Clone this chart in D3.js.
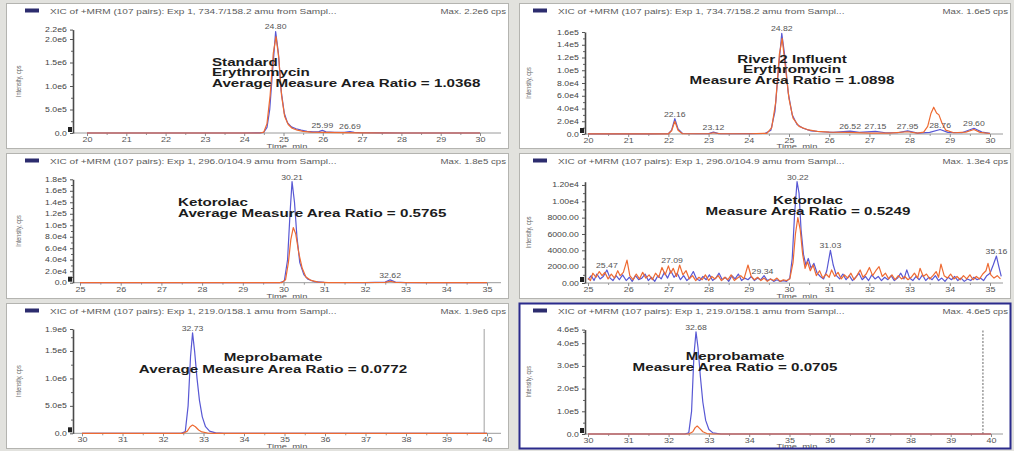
<!DOCTYPE html>
<html>
<head>
<meta charset="utf-8">
<script src="https://cdn.jsdelivr.net/npm/d3@7"></script>
<style>
  html, body { margin: 0; padding: 0; background: #e2e2de; }
  svg { display: block; }
</style>
</head>
<body>
<svg id="chart" width="1014" height="451"></svg>
<script>
// ---------------------------------------------------------------
// Extracted ion chromatograms: [retention time (min), intensity (cps)]
// ---------------------------------------------------------------

// Erythromycin, standard
const erythroStdBlue = [
  [20.0, 0], [21.0, 0], [22.0, 0], [23.0, 0], [24.0, 0], [24.4, 2000], [24.5, 15000],
  [24.58, 120000], [24.65, 500000], [24.72, 1300000], [24.8, 2160000], [24.87, 1700000],
  [24.94, 900000], [25.02, 420000], [25.1, 220000], [25.2, 130000], [25.32, 90000],
  [25.45, 60000], [25.6, 35000], [25.75, 22000], [25.9, 30000], [25.99, 55000],
  [26.08, 25000], [26.3, 12000], [26.55, 15000], [26.69, 32000], [26.8, 12000],
  [27.0, 5000], [27.5, 2000], [28.0, 0], [29.0, 0], [30.0, 0]
];
const erythroStdOrange = [
  [20.0, 0], [22.0, 0], [24.4, 0], [24.5, 20000], [24.58, 200000], [24.66, 800000],
  [24.74, 1700000], [24.81, 2050000], [24.88, 1600000], [24.95, 800000], [25.03, 350000],
  [25.12, 180000], [25.22, 100000], [25.35, 60000], [25.5, 35000], [25.7, 20000],
  [26.0, 15000], [26.5, 8000], [27.0, 3000], [28.0, 0], [30.0, 0]
];
const erythroStdPeaks = [[24.80, 2160000], [25.99, 55000], [26.69, 32000]];

// Erythromycin, River 2 influent
const erythroRivBlue = [
  [20.0, 300], [20.5, 200], [21.0, 300], [21.5, 200], [22.0, 400], [22.08, 6000],
  [22.16, 24000], [22.24, 8000], [22.35, 800], [22.7, 400], [23.0, 600], [23.12, 3000],
  [23.25, 600], [23.6, 400], [24.0, 500], [24.4, 800], [24.55, 6000], [24.65, 35000],
  [24.75, 110000], [24.82, 158000], [24.9, 120000], [24.98, 65000], [25.08, 30000],
  [25.2, 15000], [25.35, 9000], [25.55, 5000], [25.8, 3500], [26.1, 2500],
  [26.52, 4500], [26.75, 2500], [27.15, 4000], [27.4, 2000], [27.7, 2000], [27.95, 5000],
  [28.2, 1500], [28.5, 2500], [28.76, 7000], [28.95, 2500], [29.3, 2000], [29.6, 9000],
  [29.8, 3000], [30.0, 1000]
];
const erythroRivOrange = [
  [20.0, 200], [21.0, 200], [22.0, 300], [22.08, 5000], [22.16, 20000], [22.24, 6000],
  [22.35, 500], [23.0, 400], [23.12, 2000], [23.3, 400], [24.0, 400], [24.45, 1000],
  [24.57, 10000], [24.67, 50000], [24.76, 125000], [24.83, 150000], [24.9, 110000],
  [25.0, 55000], [25.1, 25000], [25.25, 12000], [25.45, 7000], [25.7, 4000], [26.0, 3000],
  [26.5, 2500], [27.0, 1500], [27.5, 1500], [27.95, 3500], [28.2, 1500], [28.35, 3000], [28.45, 12000],
  [28.53, 32000], [28.6, 42000], [28.67, 33000], [28.73, 30000], [28.8, 18000],
  [28.9, 6000], [29.1, 2000], [29.4, 3000], [29.6, 7000], [29.75, 2500], [30.0, 800]
];
const erythroRivPeaks = [
  [22.16, 24000], [23.12, 3000], [24.82, 158000], [26.52, 4500], [27.15, 4000],
  [27.95, 5000], [28.76, 7000], [29.60, 9000]
];

// Ketorolac, standard
const ketoStdBlue = [
  [25.0, 0], [26.0, 0], [27.0, 0], [28.0, 0], [29.0, 0], [29.9, 0], [30.02, 3000],
  [30.1, 40000], [30.16, 120000], [30.21, 176000], [30.27, 140000], [30.33, 80000],
  [30.4, 35000], [30.5, 14000], [30.6, 6000], [30.75, 2000], [31.0, 500], [32.0, 300],
  [32.5, 1000], [32.62, 5000], [32.75, 1000], [33.0, 200], [34.0, 0], [35.0, 0]
];
const ketoStdOrange = [
  [25.0, 0], [28.0, 0], [29.95, 0], [30.05, 5000], [30.12, 35000], [30.18, 75000],
  [30.24, 96000], [30.3, 85000], [30.38, 50000], [30.46, 25000], [30.55, 10000],
  [30.68, 4000], [30.85, 1000], [31.1, 0], [32.5, 500], [32.62, 2500], [32.75, 500],
  [33.5, 0], [35.0, 0]
];
const ketoStdPeaks = [[30.21, 176000], [32.62, 5000]];

// Ketorolac, River 2 influent
const ketoRivBlue = [
  [25.0, 400], [25.08, 900], [25.15, 300], [25.22, 1100], [25.3, 500], [25.38, 800],
  [25.47, 1600], [25.55, 600], [25.62, 300], [25.7, 900], [25.78, 400], [25.86, 1000],
  [25.95, 300], [26.03, 700], [26.1, 200], [26.18, 900], [26.26, 400], [26.34, 600],
  [26.42, 1100], [26.5, 300], [26.58, 700], [26.66, 200], [26.74, 900], [26.82, 500],
  [26.9, 1300], [26.98, 600], [27.06, 1500], [27.14, 700], [27.22, 1200], [27.3, 400],
  [27.38, 900], [27.46, 300], [27.54, 700], [27.62, 1400], [27.7, 500], [27.78, 300],
  [27.86, 800], [27.94, 400], [28.02, 1000], [28.1, 300], [28.18, 600], [28.26, 1200],
  [28.34, 400], [28.42, 700], [28.5, 200], [28.58, 900], [28.66, 500], [28.74, 1100],
  [28.82, 300], [28.9, 600], [28.98, 400], [29.06, 800], [29.14, 300], [29.22, 600],
  [29.3, 400], [29.38, 900], [29.46, 300], [29.54, 500], [29.62, 200], [29.7, 400],
  [29.78, 200], [29.86, 300], [29.94, 200], [30.02, 600], [30.08, 3000], [30.14, 8500],
  [30.2, 12400], [30.25, 11000], [30.3, 6500], [30.36, 3500], [30.42, 2200], [30.48, 3000],
  [30.55, 1800], [30.62, 2400], [30.7, 1200], [30.78, 800], [30.86, 500], [30.94, 1500],
  [31.03, 4000], [31.1, 2200], [31.18, 900], [31.26, 500], [31.34, 1100], [31.42, 400],
  [31.5, 900], [31.58, 300], [31.66, 700], [31.74, 1200], [31.82, 400], [31.9, 800],
  [31.98, 300], [32.06, 1000], [32.14, 500], [32.22, 800], [32.3, 300], [32.38, 700],
  [32.46, 400], [32.54, 900], [32.62, 300], [32.7, 600], [32.78, 1200], [32.86, 500],
  [32.93, 1600], [33.0, 600], [33.08, 300], [33.16, 800], [33.24, 400], [33.32, 1000],
  [33.4, 300], [33.48, 700], [33.56, 400], [33.64, 900], [33.72, 300], [33.8, 600],
  [33.88, 200], [33.96, 700], [34.04, 400], [34.12, 800], [34.2, 300], [34.28, 600],
  [34.36, 200], [34.44, 500], [34.52, 300], [34.6, 700], [34.68, 400], [34.76, 600],
  [34.84, 300], [34.92, 900], [35.0, 1200], [35.08, 2200], [35.16, 3300], [35.22, 2000],
  [35.28, 800]
];
const ketoRivOrange = [
  [25.0, 600], [25.06, 300], [25.12, 1200], [25.2, 700], [25.28, 1400], [25.35, 900],
  [25.42, 1300], [25.5, 500], [25.58, 1100], [25.66, 600], [25.74, 1500], [25.8, 900],
  [25.88, 1300], [25.97, 2800], [26.04, 900], [26.12, 400], [26.2, 1100], [26.28, 500],
  [26.36, 1300], [26.44, 600], [26.52, 1000], [26.6, 400], [26.68, 1200], [26.76, 700],
  [26.84, 1900], [26.92, 1000], [27.0, 2100], [27.06, 1200], [27.12, 1800], [27.2, 800],
  [27.28, 2200], [27.36, 1000], [27.44, 1500], [27.52, 500], [27.6, 900], [27.68, 300],
  [27.76, 700], [27.84, 400], [27.92, 1000], [28.0, 300], [28.08, 800], [28.16, 500],
  [28.24, 900], [28.32, 300], [28.4, 700], [28.48, 400], [28.56, 1000], [28.64, 300],
  [28.72, 600], [28.8, 900], [28.88, 500], [28.98, 2200], [29.06, 800], [29.14, 400],
  [29.22, 700], [29.3, 300], [29.38, 600], [29.46, 200], [29.54, 500], [29.62, 300],
  [29.7, 600], [29.78, 200], [29.86, 400], [29.94, 300], [30.02, 500], [30.1, 2500],
  [30.16, 6000], [30.22, 8000], [30.28, 6500], [30.34, 3500], [30.4, 1800], [30.46, 2600],
  [30.53, 1500], [30.6, 2200], [30.68, 900], [30.76, 1500], [30.84, 600], [30.92, 1100],
  [31.0, 700], [31.06, 1600], [31.14, 800], [31.22, 1300], [31.3, 500], [31.38, 1000],
  [31.46, 600], [31.54, 1200], [31.62, 400], [31.7, 1000], [31.77, 1600], [31.84, 700],
  [31.92, 1100], [32.0, 1900], [32.08, 900], [32.16, 1500], [32.24, 2000], [32.32, 800],
  [32.4, 1200], [32.48, 500], [32.56, 1000], [32.64, 400], [32.72, 900], [32.8, 500],
  [32.88, 800], [32.96, 400], [33.04, 700], [33.12, 1200], [33.2, 600], [33.26, 1800],
  [33.34, 800], [33.42, 1100], [33.5, 500], [33.58, 900], [33.66, 1400], [33.72, 700],
  [33.78, 2300], [33.86, 900], [33.94, 600], [34.02, 1100], [34.1, 500], [34.18, 800],
  [34.26, 400], [34.34, 900], [34.42, 500], [34.5, 1000], [34.58, 400], [34.66, 800],
  [34.74, 500], [34.82, 1100], [34.9, 1500], [34.95, 2400], [35.02, 1000], [35.1, 600],
  [35.18, 900], [35.26, 500]
];
const ketoRivPeaks = [
  [25.47, 1600], [27.09, 2200], [29.34, 900], [30.22, 12400], [31.03, 4000], [35.16, 3300]
];

// Meprobamate, standard
const meproStdBlue = [
  [30.0, 0], [31.0, 0], [32.0, 0], [32.45, 0], [32.55, 30000], [32.62, 500000],
  [32.68, 1400000], [32.73, 1830000], [32.78, 1500000], [32.84, 1000000], [32.9, 600000],
  [32.97, 300000], [33.05, 120000], [33.15, 40000], [33.3, 8000], [33.5, 0], [35.0, 0],
  [40.0, 0]
];
const meproStdOrange = [
  [30.0, 0], [32.5, 0], [32.6, 40000], [32.67, 120000], [32.73, 150000], [32.8, 120000],
  [32.88, 60000], [32.96, 25000], [33.1, 5000], [33.3, 0], [40.0, 0]
];
const meproStdPeaks = [[32.73, 1830000]];
const meproStdMarker = 39.93;

// Meprobamate, River 2 influent
const meproRivBlue = [
  [30.0, 0], [31.0, 0], [32.0, 0], [32.4, 0], [32.5, 5000], [32.57, 100000],
  [32.63, 350000], [32.68, 450000], [32.73, 380000], [32.79, 250000], [32.85, 140000],
  [32.92, 60000], [33.0, 20000], [33.1, 5000], [33.3, 0], [35.0, 0], [40.0, 0]
];
const meproRivOrange = [
  [30.0, 0], [32.5, 0], [32.6, 10000], [32.66, 28000], [32.71, 35000], [32.77, 25000],
  [32.85, 10000], [32.95, 2000], [33.1, 0], [40.0, 0]
];
const meproRivPeaks = [[32.68, 450000]];
const meproRivMarker = 39.8;

// Axis ticks
const timeTicks20 = [20, 21, 22, 23, 24, 25, 26, 27, 28, 29, 30];
const timeTicks25 = [25, 26, 27, 28, 29, 30, 31, 32, 33, 34, 35];
const timeTicks30 = [30, 31, 32, 33, 34, 35, 36, 37, 38, 39, 40];

const erythroStdYTicks = [0, 5e5, 1e6, 1.5e6, 2e6, 2.2e6];
const erythroStdYLabels = ["0.0", "5.0e5", "1.0e6", "1.5e6", "2.0e6", "2.2e6"];
const erythroRivYTicks = [0, 2e4, 4e4, 6e4, 8e4, 1e5, 1.2e5, 1.4e5, 1.6e5];
const erythroRivYLabels = ["0.0", "2.0e4", "4.0e4", "6.0e4", "8.0e4", "1.0e5", "1.2e5", "1.4e5", "1.6e5"];
const ketoStdYTicks = [0, 2e4, 4e4, 6e4, 8e4, 1e5, 1.2e5, 1.4e5, 1.6e5, 1.8e5];
const ketoStdYLabels = ["0.0", "2.0e4", "4.0e4", "6.0e4", "8.0e4", "1.0e5", "1.2e5", "1.4e5", "1.6e5", "1.8e5"];
const ketoRivYTicks = [0, 2000, 4000, 6000, 8000, 10000, 12000];
const ketoRivYLabels = ["0.00", "2000.00", "4000.00", "6000.00", "8000.00", "1.00e4", "1.20e4"];
const meproStdYTicks = [0, 5e5, 1e6, 1.5e6, 1.9e6];
const meproStdYLabels = ["0.0", "5.0e5", "1.0e6", "1.5e6", "1.9e6"];
const meproRivYTicks = [0, 1e5, 2e5, 3e5, 4e5, 4.6e5];
const meproRivYLabels = ["0.0", "1.0e5", "2.0e5", "3.0e5", "4.0e5", "4.6e5"];

// Header and annotation texts
const titles = [
  "XIC of +MRM (107 pairs): Exp 1, 734.7/158.2 amu from Sampl...",
  "XIC of +MRM (107 pairs): Exp 1, 734.7/158.2 amu from Sampl...",
  "XIC of +MRM (107 pairs): Exp 1, 296.0/104.9 amu from Sampl...",
  "XIC of +MRM (107 pairs): Exp 1, 296.0/104.9 amu from Sampl...",
  "XIC of +MRM (107 pairs): Exp 1, 219.0/158.1 amu from Sampl...",
  "XIC of +MRM (107 pairs): Exp 1, 219.0/158.1 amu from Sampl..."
];
const maxIntensity = [
  "Max. 2.2e6 cps", "Max. 1.6e5 cps", "Max. 1.8e5 cps",
  "Max. 1.3e4 cps", "Max. 1.9e6 cps", "Max. 4.6e5 cps"
];
const notes = [
  ["Standard", "Erythromycin", "Average Measure Area Ratio = 1.0368"],
  ["River 2 Influent", "Erythromycin", "Measure Area Ratio = 1.0898"],
  ["Ketorolac", "Average Measure Area Ratio = 0.5765"],
  ["Ketorolac", "Measure Area Ratio = 0.5249"],
  ["Meprobamate", "Average Measure Area Ratio = 0.0772"],
  ["Meprobamate", "Measure Area Ratio = 0.0705"]
];

// ---------------------------------------------------------------
// Panel layout
// ---------------------------------------------------------------
const LEFT = { bx: 6, bw: 503, axisX: 73, swatchX: 25, titleX: 50, yLabX: 21, timeX: 287 };
const RIGHT = { bx: 519, bw: 492, axisX: 585, swatchX: 533, titleX: 558, yLabX: 531, timeX: 797 };

const panels = [
  { col: LEFT, by: 3, bh: 146, ticks: timeTicks20, xRange: [87, 480], y0: 133, yTop: 29.6, yMax: 2.2e6,
    yTicks: erythroStdYTicks, yLabels: erythroStdYLabels, blue: erythroStdBlue, orange: erythroStdOrange,
    peaks: erythroStdPeaks, noteX: 212, noteAnchor: "start", noteY: [65.5, 76, 86.5] },
  { col: RIGHT, by: 3, bh: 146, ticks: timeTicks20, xRange: [588, 990], y0: 134, yTop: 32, yMax: 1.6e5,
    yTicks: erythroRivYTicks, yLabels: erythroRivYLabels, blue: erythroRivBlue, orange: erythroRivOrange,
    peaks: erythroRivPeaks, noteX: 792, noteAnchor: "middle", noteY: [62.5, 73, 84] },
  { col: LEFT, by: 153, bh: 146, ticks: timeTicks25, xRange: [80, 487], y0: 282.7, yTop: 179.3, yMax: 1.8e5,
    yTicks: ketoStdYTicks, yLabels: ketoStdYLabels, blue: ketoStdBlue, orange: ketoStdOrange,
    peaks: ketoStdPeaks, noteX: 178, noteAnchor: "start", noteY: [206, 216.5] },
  { col: RIGHT, by: 153, bh: 146, ticks: timeTicks25, xRange: [588, 990], y0: 283, yTop: 181.7, yMax: 12400,
    yTicks: ketoRivYTicks, yLabels: ketoRivYLabels, blue: ketoRivBlue, orange: ketoRivOrange,
    peaks: ketoRivPeaks, noteX: 808, noteAnchor: "middle", noteY: [204, 214.5] },
  { col: LEFT, by: 303, bh: 146, ticks: timeTicks30, xRange: [82, 487], y0: 433.3, yTop: 329, yMax: 1.9e6,
    yTicks: meproStdYTicks, yLabels: meproStdYLabels, blue: meproStdBlue, orange: meproStdOrange,
    peaks: meproStdPeaks, noteX: 273, noteAnchor: "middle", noteY: [361, 372.5],
    marker: meproStdMarker, markerDash: null, markerColor: "#a0a0a0" },
  { col: RIGHT, by: 303, bh: 146, ticks: timeTicks30, xRange: [588, 991], y0: 434, yTop: 329.6, yMax: 4.6e5,
    yTicks: meproRivYTicks, yLabels: meproRivYLabels, blue: meproRivBlue, orange: meproRivOrange,
    peaks: meproRivPeaks, noteX: 735, noteAnchor: "middle", noteY: [360, 370.5],
    marker: meproRivMarker, markerDash: "2,1.5", markerColor: "#666", selected: true }
];

// ---------------------------------------------------------------
// Drawing
// ---------------------------------------------------------------
const SX = 1.38;          // horizontal stretch applied to all lettering
const FONT = '"Liberation Sans", Arial, sans-serif';
const BLUE = "#5858d4";
const ORANGE = "#ee6a32";

const svg = d3.select("#chart");

function label(g, x, y, str, o = {}) {
  return g.append("text")
    .attr("transform", `translate(${x},${y}) scale(${SX},1)` + (o.rotate ? ` rotate(${o.rotate})` : ""))
    .attr("text-anchor", o.anchor || "start")
    .attr("font-family", FONT)
    .attr("font-size", o.size || 7)
    .attr("font-weight", o.weight || "normal")
    .attr("fill", o.fill || "#555")
    .text(str);
}

panels.forEach((p, i) => {
  const c = p.col;
  const bx = c.bx, bw = c.bw, by = p.by, bh = p.bh;

  svg.append("clipPath").attr("id", "panel-clip-" + i)
    .append("rect").attr("x", bx).attr("y", by).attr("width", bw).attr("height", bh);

  const g = svg.append("g").attr("clip-path", `url(#panel-clip-${i})`);
  g.append("rect").attr("x", bx).attr("y", by).attr("width", bw).attr("height", bh).attr("fill", "#fff");

  const t0 = p.ticks[0], t1 = p.ticks[p.ticks.length - 1];
  const x = d3.scaleLinear().domain([t0, t1]).range(p.xRange);
  const y = d3.scaleLinear().domain([0, p.yMax]).range([p.y0, p.yTop]);

  // header: legend swatch, XIC title, max intensity
  g.append("rect").attr("x", c.swatchX).attr("y", by + 5.5).attr("width", 14).attr("height", 4)
    .attr("fill", "#2c2c6e");
  label(g, c.titleX, by + 11, titles[i], { size: 7.3, fill: "#5a5a5a" });
  label(g, bx + bw - 3, by + 11, maxIntensity[i], { size: 7, anchor: "end", fill: "#5a5a5a" });

  // time axis
  g.append("line").attr("x1", c.axisX).attr("x2", bx + bw - 8)
    .attr("y1", p.y0).attr("y2", p.y0).attr("stroke", "#9a9a9a").attr("stroke-width", 1);

  const minorT = d3.range(t0, t1, 0.5).filter(v => v % 1 !== 0);
  const gxm = g.append("g").attr("transform", `translate(0,${p.y0})`)
    .call(d3.axisBottom(x).tickValues(minorT).tickFormat("").tickSize(2).tickSizeOuter(0));
  gxm.select(".domain").remove();
  gxm.attr("color", "#9a9a9a");

  const gx = g.append("g").attr("transform", `translate(0,${p.y0})`)
    .call(d3.axisBottom(x).tickValues(p.ticks).tickFormat(d3.format("d")).tickSize(3).tickPadding(1.2).tickSizeOuter(0));
  gx.select(".domain").remove();
  gx.attr("color", "#8a8a8a").attr("font-family", FONT).attr("font-size", 6.5);
  gx.selectAll("text").attr("fill", "#555").attr("transform", `scale(${SX},1)`);

  label(g, c.timeX, by + bh - 0.5, "Time, min", { size: 6.8, anchor: "middle", fill: "#555" });

  // intensity axis
  const step = p.yTicks[1] - p.yTicks[0];
  const minorY = d3.range(step / 2, p.yMax, step / 2).filter(v => Math.abs((v / step) % 1) > 0.01);
  const gym = g.append("g").attr("transform", `translate(${c.axisX},0)`)
    .call(d3.axisLeft(y).tickValues(minorY).tickFormat("").tickSize(2).tickSizeOuter(0));
  gym.select(".domain").remove();
  gym.attr("color", "#666");

  const gy = g.append("g").attr("transform", `translate(${c.axisX},0)`)
    .call(d3.axisLeft(y).tickValues(p.yTicks).tickFormat((d, k) => p.yLabels[k])
      .tickSize(3).tickPadding(1.5).tickSizeOuter(0));
  gy.attr("color", "#555").attr("font-family", FONT).attr("font-size", 6.3);
  gy.select(".domain").attr("stroke", "#4a4a4a").attr("stroke-width", 1.6);
  gy.selectAll("text").attr("fill", "#444").attr("transform", `scale(${SX},1)`);

  g.append("rect").attr("x", c.axisX - 5).attr("y", p.y0 - 6).attr("width", 4).attr("height", 5)
    .attr("fill", "#222");

  label(g, c.yLabX, (p.y0 + p.yTop) / 2, "Intensity, cps",
    { size: 5.5, anchor: "middle", rotate: -90, fill: "#666" });

  // end-of-window marker
  if (p.marker !== undefined) {
    g.append("line").attr("x1", x(p.marker)).attr("x2", x(p.marker))
      .attr("y1", p.y0).attr("y2", p.yTop)
      .attr("stroke", p.markerColor).attr("stroke-width", 1)
      .attr("stroke-dasharray", p.markerDash);
  }

  // traces
  const line = d3.line().x(d => x(d[0])).y(d => y(d[1]));
  g.append("path").datum(p.blue).attr("d", line)
    .attr("fill", "none").attr("stroke", BLUE).attr("stroke-width", 1.2).attr("stroke-linejoin", "round");
  g.append("path").datum(p.orange).attr("d", line)
    .attr("fill", "none").attr("stroke", ORANGE).attr("stroke-width", 1.2).attr("stroke-linejoin", "round");

  // retention time labels
  p.peaks.forEach(([t, v]) => {
    label(g, x(t), y(v) - 2, t.toFixed(2), { size: 6.3, anchor: "middle", fill: "#555" });
  });

  // annotation block
  notes[i].forEach((s, k) => {
    label(g, p.noteX, p.noteY[k], s, { size: 11, weight: "bold", anchor: p.noteAnchor, fill: "#1c1c1c" });
  });

  // panel frame
  svg.append("rect").attr("x", bx + 0.5).attr("y", by + 0.5).attr("width", bw - 1).attr("height", bh - 1)
    .attr("fill", "none")
    .attr("stroke", p.selected ? "#2b2b8c" : "#b4b4b0")
    .attr("stroke-width", p.selected ? 2 : 1);
});
</script>
</body>
</html>
